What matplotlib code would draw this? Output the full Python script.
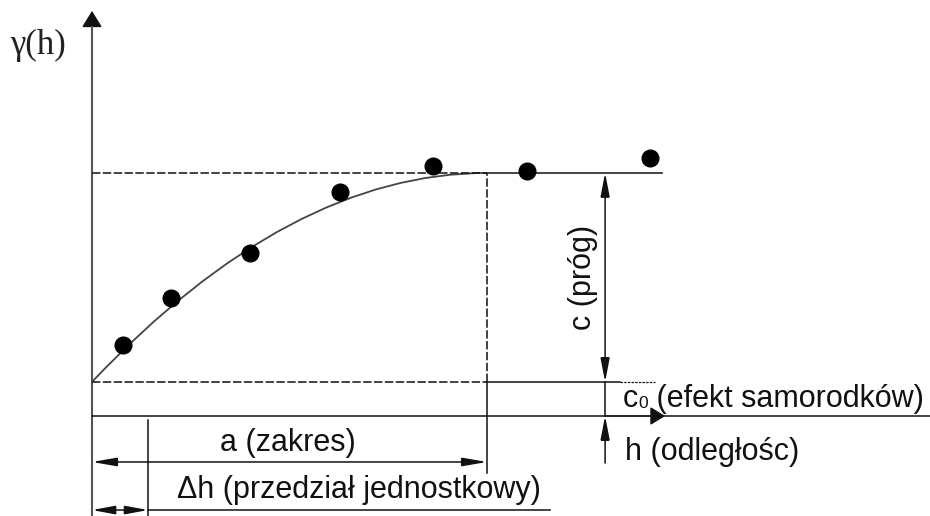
import matplotlib
matplotlib.use('Agg')
import matplotlib.pyplot as plt
from matplotlib.path import Path
from matplotlib.patches import PathPatch, FancyArrowPatch

plt.rcParams['font.family'] = ['Liberation Sans', 'DejaVu Sans']

# ---- data (experimental semivariogram points and model parameters) ----
h_obs = [0.79, 1.99, 4.0, 6.28, 8.64, 11.01, 14.13]
gamma_obs = [3.40, 5.66, 7.78, 10.73, 11.96, 11.72, 12.34]
nugget = 1.63      # c0
sill_c = 10.0      # c
range_a = 10.0     # a
lag_dh = 1.42      # delta h

# ---- labels ----
ylabel_txt = 'γ(h)'
range_txt = 'a (zakres)'
lag_txt = 'Δh (przedział jednostkowy)'
sill_txt = 'c (próg)'
nugget_sym = 'c'
nugget_sub = '0'
nugget_txt = ' (efekt samorodków)'
hlabel_txt = 'h (odległośc)'

INK = '#111111'
LW = 1.1
DASH = (0, (5.5, 1.6))

fig = plt.figure(figsize=(9.3, 5.16), dpi=100)
ax = fig.add_axes([0, 0, 1, 1])
X_MIN, X_MAX = -2.329, 21.215
Y_MIN, Y_MAX = -4.785, 19.904
ax.set_xlim(X_MIN, X_MAX)
ax.set_ylim(Y_MIN, Y_MAX)
ax.axis('off')


def arrow(p0, p1, style, hl, hw, lw=LW, color=INK, **kw):
    ax.add_patch(FancyArrowPatch(p0, p1,
                                 arrowstyle=f'{style},head_length={hl},head_width={hw}',
                                 mutation_scale=1, shrinkA=0, shrinkB=0,
                                 lw=lw, color=color, joinstyle='miter', **kw))


top = nugget + sill_c
x_dim_c = 12.99

# y axis (grey line, black arrow head)
ax.plot([0, 0], [Y_MIN, 18.6], color='#555555', lw=1.5)
arrow((0, 18.0), (0, 19.38), '-|>', 10.5, 6.5, lw=0.8)
# h axis (line across, arrow head at 14.5)
ax.plot([0, X_MAX], [0, 0], color=INK, lw=LW)
arrow((13.0, 0), (14.51, 0), '-|>', 9.5, 5.8, lw=0.8)

# sill line
ax.plot([0, range_a], [top, top], color=INK, lw=LW, ls=DASH)
ax.plot([range_a, 14.43], [top, top], color=INK, lw=LW)
# nugget line
ax.plot([0, range_a], [nugget, nugget], color=INK, lw=LW, ls=DASH)
ax.plot([range_a, 13.37], [nugget, nugget], color=INK, lw=LW)
ax.plot([13.37, 14.25], [nugget, nugget], color=INK, lw=LW * 0.8, ls=(0, (2, 1)))

# vertical at range
ax.plot([range_a, range_a], [nugget, top], color=INK, lw=LW, ls=DASH)
ax.plot([range_a, range_a], [-2.73, nugget], color=INK, lw=LW)
# vertical at lag
ax.plot([lag_dh, lag_dh], [-0.19, Y_MIN], color=INK, lw=LW)

# model curve: quadratic Bezier from (0,c0) to (a,c0+c)
curve = Path([(0, nugget), (range_a / 2, top), (range_a, top)],
             [Path.MOVETO, Path.CURVE3, Path.CURVE3])
ax.add_patch(PathPatch(curve, fill=False, lw=1.3, edgecolor='#444444'))

# experimental points
ax.plot(h_obs, gamma_obs, 'o', ms=12, color='black', zorder=5)

# range dimension
arrow((0, -2.20), (range_a, -2.20), '<|-|>', 15, 2.6)
# lag dimension
arrow((0, -4.50), (lag_dh, -4.50), '<|-|>', 14, 2.6)
ax.plot([lag_dh, 11.6], [-4.50, -4.50], color=INK, lw=LW)

# sill dimension
arrow((x_dim_c, nugget), (x_dim_c, top), '<|-|>', 14.5, 2.8)
ax.plot([x_dim_c, x_dim_c], [0, nugget], color=INK, lw=LW)
arrow((x_dim_c, -2.25), (x_dim_c, 0), '-|>', 14.5, 2.8)

# texts
ax.text(-1.37, 17.75, ylabel_txt, fontsize=25, ha='center', va='center',
        family=['Liberation Serif', 'DejaVu Serif'], color='#222222')
ax.text(4.96, -1.29, range_txt, fontsize=22, ha='center', va='center', color=INK)
ax.text(6.76, -3.54, lag_txt, fontsize=22, ha='center', va='center', color=INK)
ax.text(12.43, 6.65, sill_txt, fontsize=22, ha='center', va='center',
        rotation=90, color=INK)

base_c0 = 0.43
t1 = ax.text(13.44, base_c0, nugget_sym, fontsize=22, ha='left', va='baseline', color=INK)
t2 = ax.annotate(nugget_sub, xy=(1, base_c0), xycoords=(t1, 'data'),
                 xytext=(0.5, -0.5), textcoords='offset points',
                 fontsize=12.5, ha='left', va='baseline', color=INK)
ax.annotate(nugget_txt, xy=(1, base_c0), xycoords=(t2, 'data'),
            fontsize=22, ha='left', va='baseline', color=INK)

ax.text(13.49, -1.72, hlabel_txt, fontsize=22, ha='left', va='center', color=INK)

fig.savefig('out.png', dpi=100, facecolor='white')
